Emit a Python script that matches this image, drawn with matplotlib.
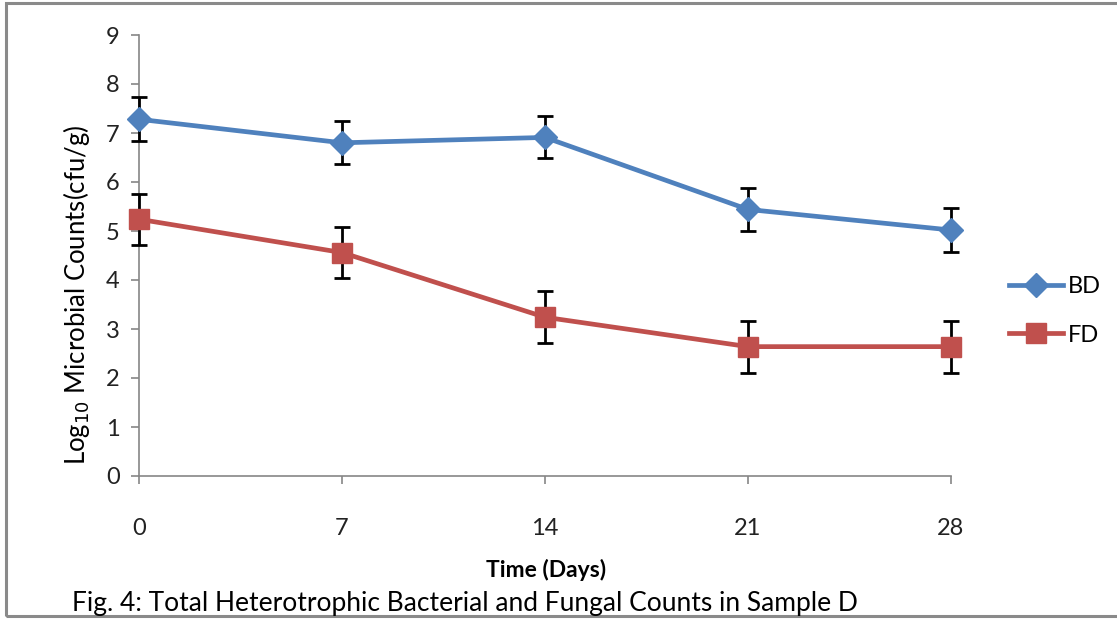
import matplotlib
matplotlib.use('Agg')
import matplotlib.pyplot as plt
from matplotlib.patches import Rectangle

# data
days = [0, 7, 14, 21, 28]
bd = [7.28, 6.80, 6.91, 5.44, 5.02]
bd_err = [0.45, 0.44, 0.43, 0.44, 0.44]
fd = [5.24, 4.56, 3.24, 2.64, 2.64]
fd_err = [0.52, 0.52, 0.53, 0.53, 0.53]

plt.rcParams['font.family'] = ['Lato', 'DejaVu Sans']

fig = plt.figure(figsize=(11.17, 6.19), dpi=100)
W, H = 1117.0, 619.0
ax = fig.add_axes([139/W, 1-476/H, (951-139)/W, (476-35)/H])

eb1 = ax.errorbar(days, bd, yerr=bd_err, color='#4F81BD', lw=3.4, marker='D', ms=12,
                  ecolor='black', elinewidth=2, capsize=6, capthick=2, label='BD', zorder=3)
eb2 = ax.errorbar(days, fd, yerr=fd_err, color='#C0504D', lw=3.4, marker='s', ms=15,
                  ecolor='black', elinewidth=2, capsize=6, capthick=2, label='FD', zorder=3)
for eb in (eb1, eb2):
    for a in eb.get_children():
        a.set_clip_on(False)

ax.set_xlim(0, 28)
ax.set_ylim(0, 9)
ax.set_xticks(days)
ax.set_yticks(range(0, 10))
for s in ['top', 'right']:
    ax.spines[s].set_visible(False)
for s in ['left', 'bottom']:
    ax.spines[s].set_color('#868686')
    ax.spines[s].set_linewidth(1.2)
ax.tick_params(axis='both', colors='#868686', labelcolor='#222222', labelsize=17, length=6, width=1.2)
ax.tick_params(axis='x', pad=24)
ax.tick_params(axis='y', pad=8)

fig.text(546/W, 1-570/H, 'Time (Days)', fontsize=16.5, fontweight='bold', ha='center', va='center')
ax.set_ylabel(r'Log$_{10}$ Microbial Counts(cfu/g)', fontsize=18.5)
ax.yaxis.set_label_coords(-0.058, 0.41)

handles, labels = ax.get_legend_handles_labels()
handles = [h[0] for h in handles]
leg = ax.legend(handles, labels, loc='center left', bbox_to_anchor=(1.045, 0.374),
                frameon=False, fontsize=17, handlelength=2.3, labelspacing=1.15,
                handletextpad=0.2)

fig.text(72/W, 1-603/H, 'Fig. 4: Total Heterotrophic Bacterial and Fungal Counts in Sample D',
         fontsize=19, va='center', ha='left')

# outer frame
fig.patches.append(Rectangle((6/W, 3/H), 1.2, 1-6/H, transform=fig.transFigure,
                             fill=False, edgecolor='#8a8a8a', lw=2.2))

fig.savefig('out.png', dpi=100)
